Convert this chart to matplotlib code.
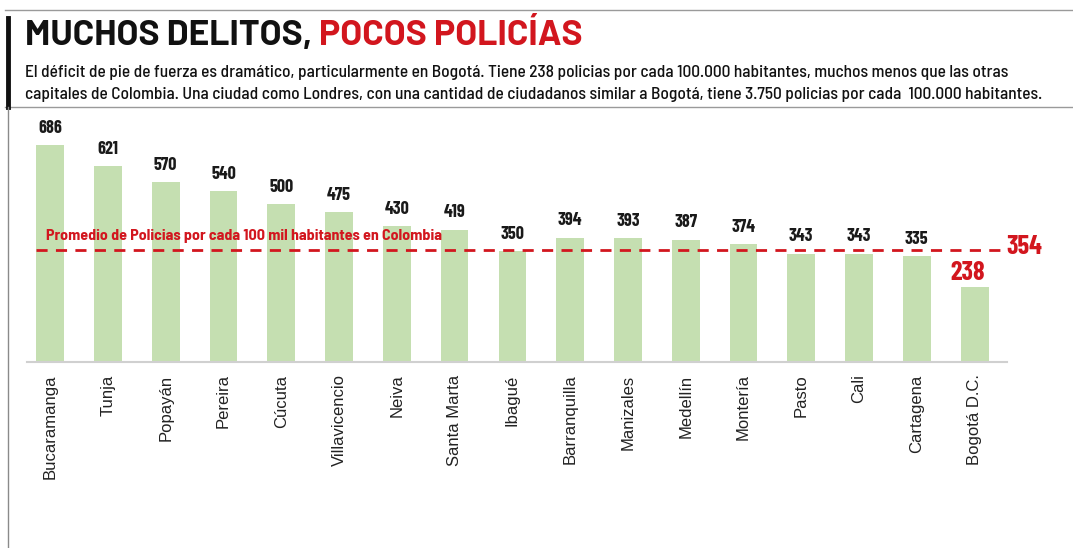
import matplotlib
matplotlib.use("Agg")
import matplotlib.pyplot as plt
from matplotlib.lines import Line2D

ciudades = ["Bucaramanga", "Tunja", "Popayán", "Pereira", "Cúcuta", "Villavicencio",
            "Neiva", "Santa Marta", "Ibagué", "Barranquilla", "Manizales", "Medellín",
            "Montería", "Pasto", "Cali", "Cartagena", "Bogotá D.C."]
policias = [686, 621, 570, 540, 500, 475, 430, 419, 350, 394, 393, 387, 374, 343, 343, 335, 238]
promedio = 354

titulo_negro = "MUCHOS DELITOS, "
titulo_rojo = "POCOS POLICÍAS"
subtitulo = ("El déficit de pie de fuerza es dramático, particularmente en Bogotá. Tiene 238 policias por cada 100.000 habitantes, muchos menos que las otras\n"
             "capitales de Colombia. Una ciudad como Londres, con una cantidad de ciudadanos similar a Bogotá, tiene 3.750 policias por cada  100.000 habitantes.")
texto_promedio = "Promedio de Policias por cada 100 mil habitantes en Colombia"

COND = ["Barlow Condensed", "DejaVu Sans"]
SEMI = ["Barlow Semi Condensed", "Barlow Condensed", "DejaVu Sans"]
ANCHA = ["Barlow", "Barlow Semi Condensed", "DejaVu Sans"]
ROJO = "#d2161e"
VERDE = "#c5dfb1"

fig = plt.figure(figsize=(10.73, 5.48), dpi=100)
ax = fig.add_axes([27 / 1073, 1 - 362 / 548, 980 / 1073, 240 / 548])

x = range(len(ciudades))
ax.bar(x, policias, width=0.48, color=VERDE, zorder=1)
ax.set_xlim(-0.4, len(ciudades) - 0.44)
ax.set_ylim(0, 760)

for i, v in enumerate(policias):
    if i == len(policias) - 1:
        ax.annotate(str(v), (i, v), xytext=(-5, 1), textcoords="offset points",
                    ha="center", va="bottom", fontsize=19, fontweight="bold",
                    color=ROJO, family=COND)
    else:
        ax.annotate(str(v), (i, v), xytext=(0, 6), textcoords="offset points",
                    ha="center", va="bottom", fontsize=13, fontweight="bold",
                    color="#1a1a1a", family=COND)

ax.plot([-0.24, 16.45], [promedio, promedio], color=ROJO, lw=2, ls=(0, (4, 3)), zorder=3)
ax.text(16.55, promedio + 10, str(promedio), color=ROJO, fontsize=19, fontweight="bold",
        family=COND, ha="left", va="center")
ax.text(-0.07, promedio + 24, texto_promedio, color=ROJO, fontsize=11.5,
        fontweight="bold", family=SEMI, ha="left", va="bottom", zorder=4)

ax.set_xticks(list(x))
ax.set_xticklabels(ciudades, rotation=90, fontsize=12, color="#222222",
                   family="Liberation Sans")
ax.tick_params(axis="x", length=0, pad=9)
ax.set_yticks([])
for s in ["top", "left", "right"]:
    ax.spines[s].set_visible(False)
ax.spines["bottom"].set_color("#d0d0d0")
ax.spines["bottom"].set_linewidth(1.5)

# marco del encabezado
fig.add_artist(Line2D([5 / 1073, 1], [1 - 10 / 548] * 2, color="#9a9a9a", lw=1))
fig.add_artist(Line2D([5 / 1073, 1], [1 - 107 / 548] * 2, color="#9a9a9a", lw=1))
fig.add_artist(Line2D([7.5 / 1073] * 2, [1 - 18 / 548, 1 - 107 / 548], color="#111111", lw=3.5))
fig.add_artist(Line2D([8 / 1073] * 2, [0, 1 - 107 / 548], color="#8a8a8a", lw=1))

t1 = fig.text(25 / 1073, 1 - 52 / 548, titulo_negro, fontsize=25.5, fontweight="bold",
              family=ANCHA, color="#111111", ha="left", va="bottom")
ax.annotate(titulo_rojo, xy=(1, 0), xycoords=t1, fontsize=25.5, fontweight="bold",
            family=ANCHA, color=ROJO, ha="left", va="bottom", annotation_clip=False)

fig.text(25 / 1073, 1 - 102 / 548, subtitulo, fontsize=12.5, fontweight="medium",
         family=SEMI, color="#111111", ha="left", va="bottom", linespacing=1.6)

fig.savefig("out.png", dpi=100)
